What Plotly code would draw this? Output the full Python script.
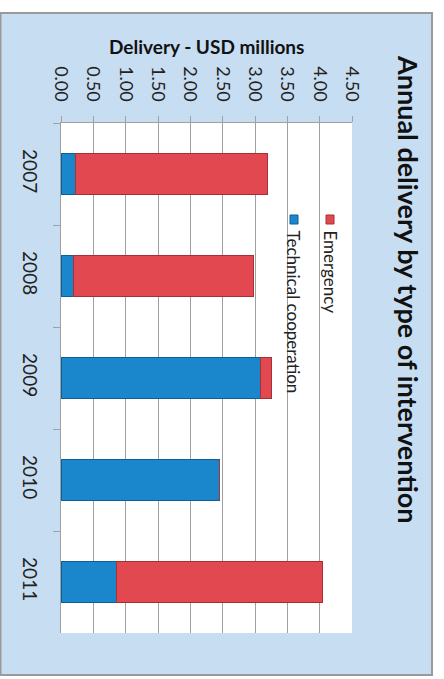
import plotly.graph_objects as go

# Annual delivery (USD millions) by type of intervention
years = ["2007", "2008", "2009", "2010", "2011"]
technical_cooperation = [0.23, 0.19, 3.08, 2.45, 0.86]
emergency = [2.96, 2.79, 0.18, 0.0, 3.19]
value_ticks = [0.0, 0.5, 1.0, 1.5, 2.0, 2.5, 3.0, 3.5, 4.0, 4.5]

W, H = 444, 679
L, R, T, B = 61, 352, 123, 633  # plot area in pixels

FONT = "Lato"
BLUE, BLUE_EDGE = "#1A86CC", "#0E5E99"
RED, RED_EDGE = "#E14850", "#A92F36"
PANEL = "#C7DDF1"


def px(x):
    return (x - L) / (R - L)


def py(y):
    return (B - y) / (B - T)


fig = go.Figure()
fig.add_trace(go.Bar(
    name="Technical cooperation", y=years, x=technical_cooperation, orientation="h",
    marker=dict(color=BLUE, line=dict(color=BLUE_EDGE, width=1)),
))
fig.add_trace(go.Bar(
    name="Emergency", y=years, x=emergency, orientation="h",
    marker=dict(color=RED, line=dict(color=RED_EDGE, width=1)),
))

shapes = [
    # panel behind the whole chart
    dict(type="rect", xref="paper", yref="paper", x0=px(0.5), x1=px(432), y0=py(675), y1=py(13),
         fillcolor=PANEL, line=dict(color="#9A9A9A", width=2), layer="below"),
    # white plotting area
    dict(type="rect", xref="paper", yref="paper", x0=0, x1=1, y0=0, y1=1,
         fillcolor="white", line=dict(width=0), layer="below"),
    # legend keys
    dict(type="rect", xref="paper", yref="paper", x0=px(326), x1=px(334), y0=py(224), y1=py(215),
         fillcolor=RED, line=dict(color=RED_EDGE, width=1)),
    dict(type="rect", xref="paper", yref="paper", x0=px(290), x1=px(298), y0=py(224), y1=py(215),
         fillcolor=BLUE, line=dict(color=BLUE_EDGE, width=1)),
]

annotations = [
    dict(text="<b>Annual delivery by type of intervention</b>", textangle=90,
         xref="paper", yref="paper", x=px(409), y=py(289), xanchor="center", yanchor="middle",
         showarrow=False, font=dict(family=FONT, size=27, color="#111111")),
    dict(text="<b>Delivery - USD millions</b>",
         xref="paper", yref="paper", x=px(206.5), y=py(46), xanchor="center", yanchor="middle",
         showarrow=False, font=dict(family=FONT, size=19, color="#111111")),
    dict(text="Emergency", textangle=90,
         xref="paper", yref="paper", x=px(330), y=py(228), xanchor="center", yanchor="top",
         showarrow=False, font=dict(family=FONT, size=17, color="#222222")),
    dict(text="Technical cooperation", textangle=90,
         xref="paper", yref="paper", x=px(293), y=py(228), xanchor="center", yanchor="top",
         showarrow=False, font=dict(family=FONT, size=17, color="#222222")),
]

fig.update_layout(
    width=W, height=H,
    margin=dict(l=L, r=W - R, t=T, b=H - B, pad=0),
    paper_bgcolor="white", plot_bgcolor="white",
    barmode="stack", bargap=0.6, showlegend=False,
    font=dict(family=FONT, color="#222222"),
    shapes=shapes, annotations=annotations,
)
fig.update_xaxes(
    side="top", range=[0, 4.5], tickvals=value_ticks, tickformat=".2f", tickangle=90,
    tickfont=dict(family=FONT, size=18, color="#222222"),
    showgrid=True, gridcolor="#A0A0A0", gridwidth=1,
    showline=True, linecolor="#A0A0A0", linewidth=1,
    ticks="outside", ticklen=6, tickcolor="#A0A0A0", ticklabelstandoff=8,
    zeroline=False, fixedrange=True,
)
fig.update_yaxes(
    autorange="reversed", type="category", tickangle=90, tickson="boundaries",
    tickfont=dict(family=FONT, size=19, color="#222222"),
    showline=True, linecolor="#A0A0A0", linewidth=1,
    ticks="outside", ticklen=7, tickcolor="#A0A0A0", ticklabelstandoff=14,
    showgrid=False, fixedrange=True,
)

fig.write_html("out.html")
